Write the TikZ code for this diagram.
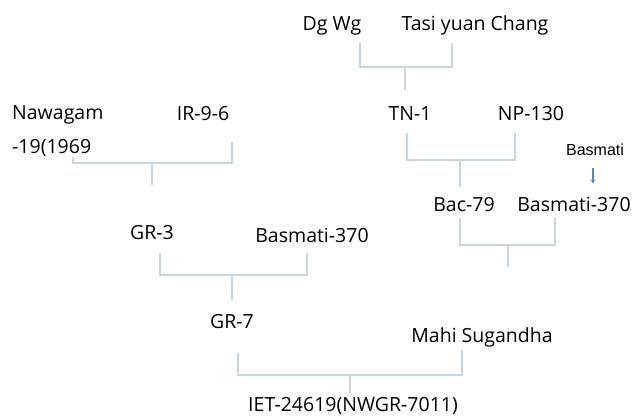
\documentclass[tikz,border=0pt]{standalone}
\usepackage{fontspec}
\setmainfont{Open Sans}
\newfontfamily\narrowfont{Liberation Sans}
\usetikzlibrary{arrows.meta}

\definecolor{crossline}{RGB}{198,214,226}
\definecolor{crossarrow}{RGB}{88,138,190}

\tikzset{
	variety/.style={anchor=base,inner sep=0pt,font=\fontsize{19.5}{34}\selectfont},
	cross/.style={draw=crossline,line width=2.4pt},
}

\begin{document}
\begin{tikzpicture}[x=1pt,y=-1pt]
		\useasboundingbox (0,0) rectangle (634,416);
		% parents and offspring
		\node[variety] (dgwg) at (332,30) {Dg Wg};
		\node[variety] (tasi) at (475,30) {Tasi yuan Chang};
		\node[variety,anchor=base west,align=left] (nawa) at (12,153) {Nawagam\\-19(1969};
		\node[variety] (ir) at (203,120) {IR-9-6};
		\node[variety] (tn) at (410,120) {TN-1};
		\node[variety] (np) at (531,120) {NP-130};
		\node[anchor=base,inner sep=0pt,font=\narrowfont\fontsize{16}{18}\selectfont] (bas) at (595,155) {Basmati};
		\node[variety] (bac) at (464,211) {Bac-79};
		\node[variety] (basa) at (574,211) {Basmati-370};
		\node[variety] (gr3) at (152,239) {GR-3};
		\node[variety] (basb) at (312,242) {Basmati-370};
		\node[variety] (gr7) at (232,328) {GR-7};
		\node[variety] (mahi) at (482,342) {Mahi Sugandha};
		\node[variety] (iet) at (353,411) {IET-24619(NWGR-7011)};
		% crosses
		\foreach \i/\l/\lt/\r/\rt/\h/\s/\e in {1/360/43/452/43/67/405/90,
			2/73/157/232/142/163/152/185,
			3/407/133/515/133/160/460/187,
			4/460/218/555/218/245/508/267,
			5/160/253/307/253/275/232/300,
			6/238/353/462/350/375/350/393}{
			\coordinate (l\i) at (\l,\lt);
			\coordinate (r\i) at (\r,\rt);
			\coordinate (m\i) at (\s,\h);
			\coordinate (c\i) at (\s,\e);
			\draw[cross] (l\i) |- (m\i) -| (r\i);
			\draw[cross] (m\i) -- (c\i);
		};
		\draw[crossarrow,line width=1.8pt,-{Stealth[length=4pt,width=5pt]},shorten <=13pt,shorten >=13pt]
			([xshift=-2pt]bas.south) -- ([xshift=-2pt]bas.south |- basa.north);
	\end{tikzpicture}
\end{document}
